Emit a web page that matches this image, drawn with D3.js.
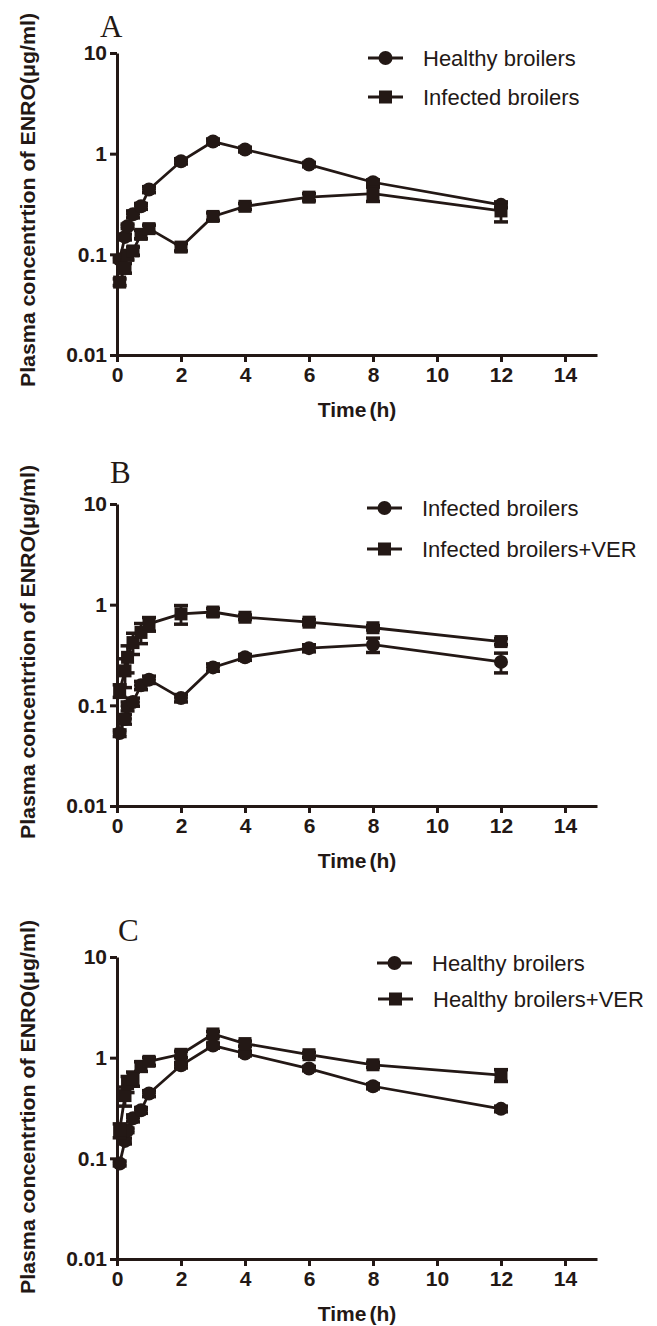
<!DOCTYPE html>
<html>
<head>
<meta charset="utf-8">
<script src="https://cdn.jsdelivr.net/npm/d3@7/dist/d3.min.js"></script>
<style>
  html, body { margin: 0; padding: 0; background: #fff; }
</style>
</head>
<body>
<script>
// sampling times (h)
const times = [0.083, 0.25, 0.33, 0.5, 0.75, 1, 2, 3, 4, 6, 8, 12];

// mean concentrations (ug/ml) and SD
const healthy = [0.089, 0.149, 0.19, 0.25, 0.30, 0.44, 0.84, 1.32, 1.10, 0.78, 0.52, 0.31];
const healthySd = [0.005, 0.01, 0.01, 0.02, 0.02, 0.03, 0.05, 0.08, 0.06, 0.04, 0.03, 0.02];
const infected = [0.053, 0.073, 0.098, 0.108, 0.158, 0.18, 0.118, 0.238, 0.30, 0.37, 0.40, 0.27];
const infectedSd = [0.004, 0.008, 0.01, 0.01, 0.015, 0.015, 0.01, 0.02, 0.02, 0.03, 0.065, 0.06];
const infectedVer = [0.14, 0.22, 0.30, 0.42, 0.53, 0.645, 0.81, 0.845, 0.75, 0.67, 0.59, 0.43];
const infectedVerSd = [0.02, 0.07, 0.09, 0.10, 0.12, 0.10, 0.17, 0.07, 0.04, 0.04, 0.03, 0.03];
const healthyVer = [0.19, 0.42, 0.55, 0.62, 0.82, 0.92, 1.08, 1.72, 1.38, 1.07, 0.85, 0.67];
const healthyVerSd = [0.03, 0.09, 0.10, 0.10, 0.09, 0.08, 0.08, 0.10, 0.08, 0.06, 0.05, 0.09];

const xTicks = [0, 2, 4, 6, 8, 10, 12, 14];
const yTicks = [0.01, 0.1, 1, 10];
const yLabel = "Plasma concentrtion of ENRO(\u03bcg/ml)";

const ink = "#231815";

const panels = [
  { letter: "A", top: 53, letterX: 100, letterY: 37, legendX: 368, legendY: [58, 97], labelY: 200,
    series: [
      { name: "Healthy broilers", shape: "circle", values: healthy, sd: healthySd },
      { name: "Infected broilers", shape: "square", values: infected, sd: infectedSd }
    ] },
  { letter: "B", top: 504, letterX: 110, letterY: 483, legendX: 367, legendY: [508, 549], labelY: 652,
    series: [
      { name: "Infected broilers", shape: "circle", values: infected, sd: infectedSd },
      { name: "Infected broilers+VER", shape: "square", values: infectedVer, sd: infectedVerSd }
    ] },
  { letter: "C", top: 957, letterX: 118, letterY: 941, legendX: 377, legendY: [963, 999], labelY: 1107,
    series: [
      { name: "Healthy broilers", shape: "circle", values: healthy, sd: healthySd },
      { name: "Healthy broilers+VER", shape: "square", values: healthyVer, sd: healthyVerSd }
    ] }
];

const svg = d3.select("body").append("svg")
  .attr("width", 657)
  .attr("height", 1326);

const x = d3.scaleLinear().domain([0, 15]).range([117, 597]);

function marker(g, shape, cx, cy) {
  if (shape === "circle") {
    g.append("circle").attr("cx", cx).attr("cy", cy).attr("r", 7).attr("fill", ink);
  } else {
    g.append("rect").attr("x", cx - 6.5).attr("y", cy - 6.5)
      .attr("width", 13).attr("height", 13).attr("fill", ink);
  }
}

panels.forEach(p => {
  const y = d3.scaleLog().domain([0.01, 10]).range([p.top + 302, p.top]);
  const g = svg.append("g");

  // axes
  const xAxis = g.append("g")
    .attr("transform", `translate(0,${y(0.01)})`)
    .call(d3.axisBottom(x).tickValues(xTicks).tickSize(7).tickSizeOuter(0).tickPadding(5));
  const yAxis = g.append("g")
    .attr("transform", `translate(${x(0)},0)`)
    .call(d3.axisLeft(y).tickValues(yTicks).tickFormat(d3.format("~g")).tickSize(7).tickSizeOuter(0).tickPadding(3));

  [xAxis, yAxis].forEach(a => {
    a.select(".domain").attr("stroke", ink).attr("stroke-width", 3);
    a.selectAll(".tick line").attr("stroke", ink).attr("stroke-width", 3);
    a.selectAll(".tick text")
      .attr("fill", ink)
      .attr("font-family", "Liberation Sans, Arial, sans-serif")
      .attr("font-weight", "bold")
      .attr("font-size", 21);
  });

  // panel letter
  g.append("text")
    .attr("x", p.letterX).attr("y", p.letterY)
    .attr("font-family", "Liberation Serif, Times New Roman, serif")
    .attr("font-size", 31)
    .attr("fill", ink)
    .text(p.letter);

  // axis titles
  g.append("text")
    .attr("transform", `translate(28,${p.labelY}) rotate(-90)`)
    .attr("text-anchor", "middle")
    .attr("dominant-baseline", "central")
    .attr("font-family", "Liberation Sans, Arial, sans-serif")
    .attr("font-weight", "bold")
    .attr("font-size", 20)
    .attr("textLength", 374)
    .attr("lengthAdjust", "spacingAndGlyphs")
    .attr("fill", ink)
    .text(yLabel);

  const tt = g.append("text")
    .attr("x", x(7.5)).attr("y", y(0.01) + 62)
    .attr("text-anchor", "middle")
    .attr("font-family", "Liberation Sans, Arial, sans-serif")
    .attr("font-weight", "bold")
    .attr("font-size", 21)
    .attr("fill", ink);
  tt.append("tspan").text("Time");
  tt.append("tspan").attr("dx", 3).text("(h)");

  const line = d3.line().x(d => x(d[0])).y(d => y(d[1]));

  p.series.forEach(s => {
    const pts = times.map((t, i) => [t, s.values[i], s.sd[i]]);

    g.append("path")
      .datum(pts)
      .attr("d", line)
      .attr("fill", "none")
      .attr("stroke", ink)
      .attr("stroke-width", 2.8);

    // error bars (mean +/- SD)
    pts.forEach(d => {
      const lo = Math.max(d[1] - d[2], 0.011);
      const hi = d[1] + d[2];
      const cx = x(d[0]);
      g.append("line").attr("x1", cx).attr("x2", cx).attr("y1", y(lo)).attr("y2", y(hi))
        .attr("stroke", ink).attr("stroke-width", 2.8);
      [lo, hi].forEach(v => {
        g.append("line").attr("x1", cx - 7).attr("x2", cx + 7).attr("y1", y(v)).attr("y2", y(v))
          .attr("stroke", ink).attr("stroke-width", 3.5);
      });
    });

    pts.forEach(d => marker(g, s.shape, x(d[0]), y(d[1])));
  });

  // legend
  p.series.forEach((s, i) => {
    const ly = p.legendY[i];
    const lx = p.legendX + (p.letter === "C" && i === 1 ? 1 : 0);
    g.append("line").attr("x1", lx).attr("x2", lx + 35).attr("y1", ly).attr("y2", ly)
      .attr("stroke", ink).attr("stroke-width", 3);
    marker(g, s.shape, lx + 17.5, ly);
    g.append("text")
      .attr("x", lx + 55).attr("y", ly)
      .attr("dominant-baseline", "central")
      .attr("font-family", "Liberation Sans, Arial, sans-serif")
      .attr("font-size", 22)
      .attr("fill", ink)
      .text(s.name);
  });
});
</script>
</body>
</html>
